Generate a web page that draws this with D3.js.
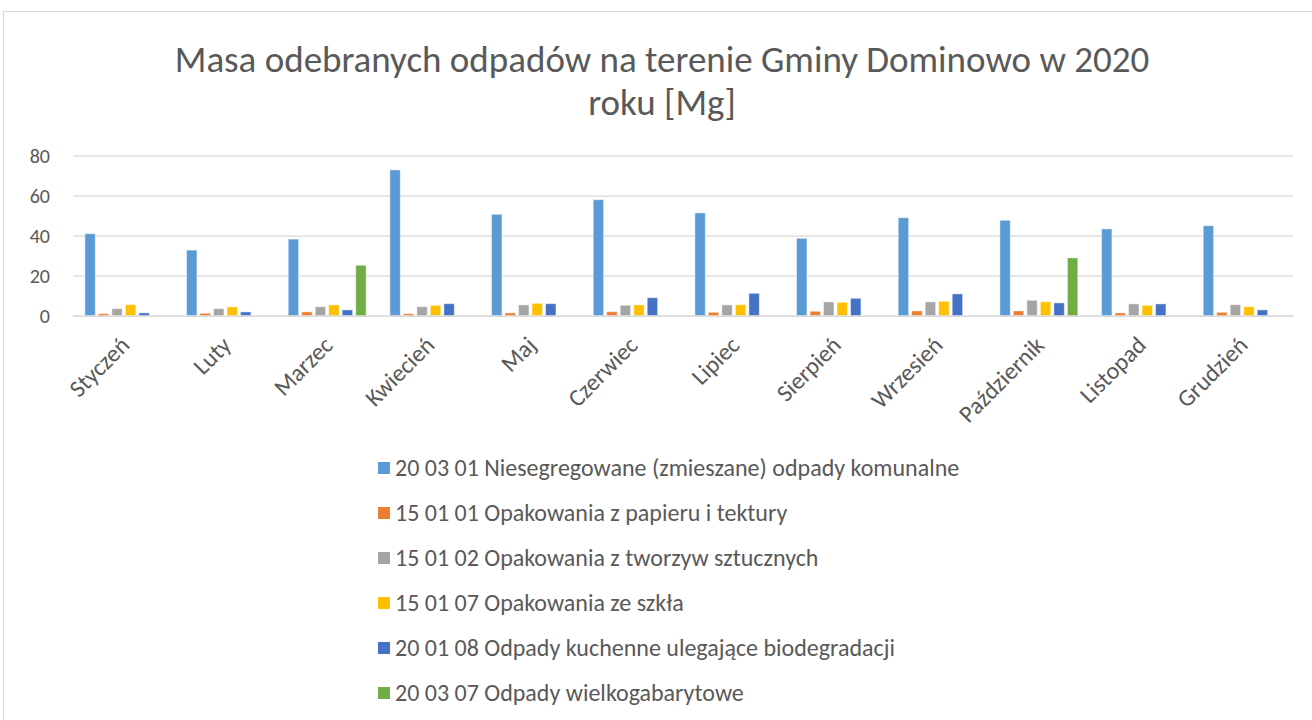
<!DOCTYPE html>
<html><head><meta charset="utf-8">
<script src="https://cdn.jsdelivr.net/npm/d3@7"></script>
<style>
html,body{margin:0;padding:0;background:#fff;}
text{font-family:Carlito,Lato,"Open Sans",sans-serif;fill:#595959;}
</style></head>
<body><svg id="c" width="1312" height="720"></svg>
<script>
const title = ["Masa odebranych odpadów na terenie Gminy Dominowo w 2020", "roku [Mg]"];
const months = ["Styczeń","Luty","Marzec","Kwiecień","Maj","Czerwiec","Lipiec","Sierpień","Wrzesień","Październik","Listopad","Grudzień"];
const seriesNames = [
  "20 03 01 Niesegregowane (zmieszane) odpady komunalne",
  "15 01 01 Opakowania z papieru i tektury",
  "15 01 02 Opakowania z tworzyw sztucznych",
  "15 01 07 Opakowania ze szkła",
  "20 01 08 Odpady kuchenne ulegające biodegradacji",
  "20 03 07 Odpady wielkogabarytowe"
];
const colors = ["#5B9BD5","#ED7D31","#A5A5A5","#FFC000","#4472C4","#70AD47"];
const s200301 = [41.0, 32.8, 38.3, 72.9, 50.7, 58.0, 51.4, 38.7, 49.0, 47.7, 43.4, 45.0];
const s150101 = [1.0, 1.2, 1.9, 1.0, 1.4, 2.0, 1.7, 2.2, 2.4, 2.4, 1.4, 1.7];
const s150102 = [3.5, 3.5, 4.5, 4.5, 5.4, 5.2, 5.4, 6.9, 6.9, 7.7, 5.9, 5.5];
const s150107 = [5.5, 4.4, 5.4, 5.2, 6.2, 5.4, 5.5, 6.7, 7.2, 7.0, 5.2, 4.5];
const s200108 = [1.4, 1.9, 2.9, 6.0, 6.0, 9.0, 11.2, 8.7, 10.9, 6.4, 5.9, 2.9];
const s200307 = [0, 0, 25.2, 0, 0, 0, 0, 0, 0, 28.9, 0, 0];
const yTicks = [0, 20, 40, 60, 80];

const values = [s200301, s150101, s150102, s150107, s200108, s200307];
const svg = d3.select("#c");

// chart border
svg.append("rect").attr("x",3.5).attr("y",11.5).attr("width",1320).attr("height",720)
  .attr("fill","none").attr("stroke","#d9d9d9").attr("stroke-width",1);

const plotL = 73, plotR = 1293, plotT = 155.7, plotB = 315.7;
const x0 = d3.scaleBand().domain(months).range([plotL, plotR]).padding(0);
const x1 = d3.scaleBand().domain(d3.range(seriesNames.length)).range([0, x0.bandwidth()])
  .paddingInner(0.23).paddingOuter(0.88);
const y = d3.scaleLinear().domain([0, 80]).range([plotB, plotT]);

// gridlines
const yAxis = d3.axisLeft(y).tickValues(yTicks).tickSize(-(plotR - plotL)).tickPadding(23);
const gy = svg.append("g").attr("transform", `translate(${plotL},0)`).call(yAxis);
gy.select(".domain").remove();
gy.selectAll(".tick line").attr("stroke","#d9d9d9").attr("stroke-width",1.3);
gy.selectAll(".tick text").style("font-size","20px").attr("fill","#595959");

// bars
const groups = svg.append("g").selectAll("g").data(months).join("g")
  .attr("transform", d => `translate(${x0(d)},0)`);
groups.selectAll("rect").data((m, i) => values.map((s, k) => ({k, v: s[i]})).filter(d => d.v > 0))
  .join("rect")
  .attr("x", d => x1(d.k))
  .attr("width", x1.bandwidth())
  .attr("y", d => y(d.v))
  .attr("height", d => y(0) - y(d.v))
  .attr("fill", d => colors[d.k])
  .attr("stroke", "#ffffff").attr("stroke-opacity", 0.45).attr("stroke-width", 1);

// x axis line
const xAxis = d3.axisBottom(x0).tickSize(0).tickPadding(0);
const gx = svg.append("g").attr("transform", `translate(0,${plotB})`).call(xAxis);
gx.select(".domain").attr("stroke","#d9d9d9").attr("stroke-width",1.3);
gx.selectAll(".tick text")
  .style("font-size","24px").attr("fill","#595959")
  .attr("text-anchor","end")
  .attr("transform","translate(7,31) rotate(-45)")
  .attr("dy","0");

// title
const tt = svg.append("text").attr("text-anchor","middle").style("font-size","37px").style("font-weight","300");
title.forEach((line, i) => tt.append("tspan").attr("x", 662).attr("y", 72 + i * 43).text(line));

// legend
const lg = svg.append("g").selectAll("g").data(seriesNames).join("g")
  .attr("transform", (d, i) => `translate(378, ${468 + i * 45})`);
lg.append("rect").attr("x",0).attr("y",-6).attr("width",12).attr("height",12).attr("fill",(d,i)=>colors[i]);
lg.append("text").attr("x",17).attr("y",0).attr("dy","0.35em").style("font-size","24px").text(d => d);
</script></body></html>
